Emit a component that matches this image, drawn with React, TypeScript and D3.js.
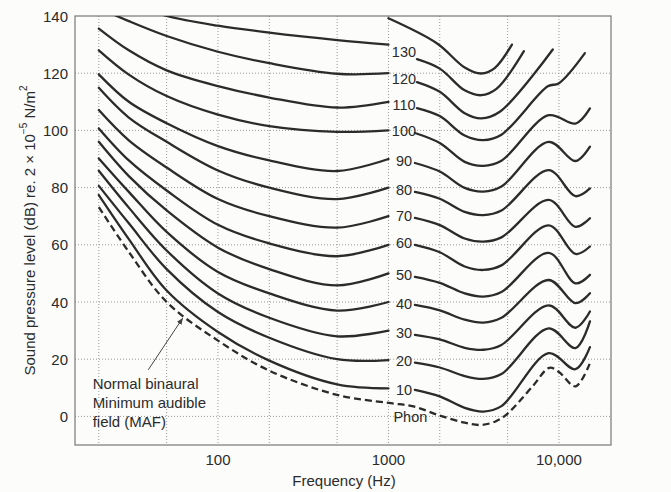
import React from "react";
import * as d3 from "d3";

// phon levels, 10..130
const phons = [10, 20, 30, 40, 50, 60, 70, 80, 90, 100, 110, 120, 130];

// left branch, 20 Hz .. 1 kHz
const leftHz = [20, 30, 50, 100, 200, 500, 1000];
const leftDb = [
  [77.4, 62, 44, 29.5, 19.5, 11.2, 9.8],
  [80.6, 67.5, 51.5, 36.5, 27.5, 20, 19.7],
  [85.9, 73, 58, 43, 34.5, 28, 30],
  [90.2, 78.5, 64.5, 50.5, 43, 37, 40],
  [96, 84, 72, 59, 51.5, 45.8, 50],
  [100.7, 89.5, 79, 67, 60.5, 56, 60],
  [107.1, 96.5, 87, 76, 70, 66, 70],
  [114.9, 104.5, 96, 86, 80, 76, 80],
  [119.6, 110, 102.5, 94.5, 89.5, 85.8, 90],
  [128, 119.5, 112, 105.5, 101.5, 99.5, 100],
  [135.6, 128, 121, 115.5, 111.5, 108, 110],
  [142.8, 138.2, 133, 127.5, 123.5, 119.8, 120],
  [148, 144.5, 140, 136.6, 134.2, 131.6, 130],
];

// where each phon label sits (dB)
const labelDb = [9.3, 19.2, 29.1, 39.4, 49.5, 60.6, 70.1, 79.2, 89.3, 99.8, 108.8, 117.9, 127.3];

// right branch for 10..100 phon, starting just after the label
const rightHz = [1430, 2000, 2800, 3600, 4600, 8700, 12500, 15200];
const rightDb = [
  [9.3, 7.0, 3.0, 1.7, 3.6, 22.1, 16.5, 24.2],
  [18.8, 17.1, 14.1, 13.1, 14.8, 30.8, 23.9, 33.2],
  [28.5, 26.9, 24.0, 23.3, 25.0, 38.8, 31, 36.7],
  [39, 37.1, 33.8, 32.8, 34.5, 47.7, 39.6, 43.1],
  [48.8, 46.7, 43.0, 41.9, 43.5, 57.2, 46.5, 49.5],
  [60, 57.4, 52.4, 51.2, 52.8, 66.8, 56.8, 59.4],
  [69.4, 66.9, 62.2, 61.1, 62.6, 75.7, 66.3, 69.3],
  [78.5, 76.1, 71.5, 70.4, 72.0, 86.1, 77, 79.7],
  [88.6, 85.6, 79.9, 78.6, 80.4, 96, 89.3, 94.3],
  [99.1, 95.6, 89.0, 87.6, 89.4, 105.3, 102.4, 107.7],
];

// right branch for the loud curves (110, 120, 130 and the unlabelled 140)
const loudHz = [
  [1470, 2000, 2800, 3600, 4600, 8600, 10000, 14200],
  [1470, 2000, 2800, 3500, 4500, 9200],
  [1470, 2000, 2800, 3500, 4300, 6230],
  [1000, 1930, 2800, 3500, 4200, 5300],
];
const loudDb = [
  [107.8, 105, 98.2, 96.6, 98.5, 115.4, 116.5, 127],
  [116.9, 113.5, 106, 104.2, 106.5, 128.3],
  [124.9, 121.6, 114, 112.3, 114.5, 127.7],
  [139.2, 130.4, 122, 119.9, 121.8, 130],
];

// minimum audible field
const mafHz = [20, 30, 50, 100, 200, 500, 1000, 1400, 2000, 2800, 3500, 4300, 5000, 7000, 8800, 10000, 12500, 15200];
const mafDb = [73.2, 57.5, 40, 26.5, 16, 7.5, 4.7, 3.5, 0.3, -2.2, -3, -1.6, 1, 10.5, 17, 15.5, 10.5, 18.6];

const yTicks = [0, 20, 40, 60, 80, 100, 120, 140];
const yGrid = [0, 20, 40, 60, 80, 100, 120];
const xGrid = [20, 50, 100, 200, 500, 1000, 2000, 5000, 10000];
const xTicks = [
  { hz: 100, label: "100" },
  { hz: 1000, label: "1000" },
  { hz: 10000, label: "10,000" },
];

const W = 671;
const H = 492;
const FONT = "'Liberation Sans', Arial, Helvetica, sans-serif";
const INK = "#2b2b2b";

export default function App() {
  const left = 75, right = 611, top = 16, bottom = 445;

  const x = d3.scaleLog().domain([14.5, 20200]).range([left, right]);
  const y = d3.scaleLinear().domain([-10, 140]).range([bottom, top]);

  const line = d3
    .line<[number, number]>()
    .x((d) => x(d[0]))
    .y((d) => y(d[1]))
    .curve(d3.curveCatmullRom.alpha(0.5));

  const zip = (hz: number[], db: number[]) => hz.map((h, i) => [h, db[i]] as [number, number]);

  const solid: string[] = [];
  leftDb.forEach((db) => solid.push(line(zip(leftHz, db))!));
  rightDb.forEach((db) => solid.push(line(zip(rightHz, db))!));
  loudHz.forEach((hz, i) => solid.push(line(zip(hz, loudDb[i]))!));

  const maf = line(zip(mafHz, mafDb))!;

  const labelX = x(1000) + 15.5;
  const noteX = x(18.4);
  const noteY = y(11.6);

  return (
    <svg
      width={W}
      height={H}
      style={{ position: "absolute", left: 0, top: 0, background: "#fcfcfb" }}
      fontFamily={FONT}
    >
      <defs>
        <clipPath id="plot">
          <rect x={left} y={top} width={right - left} height={bottom - top} />
        </clipPath>
        <marker id="head" viewBox="0 0 10 10" refX="9" refY="5" markerWidth="7" markerHeight="7" orient="auto">
          <path d="M0,1 L10,5 L0,9 z" fill="#444" />
        </marker>
      </defs>

      {/* grid */}
      <g stroke="#9a9a9a" strokeWidth={1} strokeDasharray="1 2">
        {yGrid.map((v) => (
          <line key={"h" + v} x1={left} x2={right} y1={y(v)} y2={y(v)} />
        ))}
        {xGrid.map((v) => (
          <line key={"v" + v} x1={x(v)} x2={x(v)} y1={top} y2={bottom} />
        ))}
      </g>

      {/* frame */}
      <rect x={left} y={top} width={right - left} height={bottom - top} fill="none" stroke="#777" strokeWidth={1.2} />

      {/* curves */}
      <g clipPath="url(#plot)" fill="none" stroke={INK} strokeWidth={2.3} strokeLinecap="round">
        {solid.map((d, i) => (
          <path key={i} d={d} />
        ))}
        <path d={maf} strokeDasharray="7 4" strokeLinecap="butt" />
      </g>

      {/* phon labels */}
      <g fontSize={14.5} fill={INK} textAnchor="middle">
        {phons.map((p, i) => (
          <text key={p} x={labelX} y={y(labelDb[i])} dominantBaseline="central">
            {p}
          </text>
        ))}
        <text x={x(1000) + 5} y={y(-0.2)} dominantBaseline="central" textAnchor="start">
          Phon
        </text>
      </g>

      {/* MAF note */}
      <line
        x1={x(39)}
        y1={y(16.3)}
        x2={x(62)}
        y2={y(34.3)}
        stroke="#444"
        strokeWidth={1}
        markerEnd="url(#head)"
      />
      <g fontSize={15} fill={INK}>
        {["Normal binaural", "Minimum audible", "field (MAF)"].map((t, i) => (
          <text key={t} x={noteX} y={noteY + i * 19.2} dominantBaseline="central">
            {t}
          </text>
        ))}
      </g>

      {/* y ticks */}
      <g fontSize={15} fill={INK} textAnchor="end">
        {yTicks.map((v) => (
          <text key={v} x={left - 7} y={y(v)} dominantBaseline="central">
            {v}
          </text>
        ))}
      </g>

      {/* x ticks */}
      <g fontSize={15} fill={INK} textAnchor="middle">
        {xTicks.map((t) => (
          <text key={t.hz} x={x(t.hz)} y={bottom + 14.5} dominantBaseline="central">
            {t.label}
          </text>
        ))}
      </g>

      <text x={344} y={480} fontSize={15} fill={INK} textAnchor="middle" dominantBaseline="central">
        Frequency (Hz)
      </text>

      <text
        transform={`translate(29, ${(top + bottom) / 2}) rotate(-90)`}
        fontSize={15}
        fill={INK}
        textAnchor="middle"
        dominantBaseline="central"
      >
        Sound pressure level (dB) re. 2 × 10
        <tspan fontSize={10} dy={-6}>−5</tspan>
        <tspan dy={6}> N/m</tspan>
        <tspan fontSize={10} dy={-6}>2</tspan>
      </text>
    </svg>
  );
}
